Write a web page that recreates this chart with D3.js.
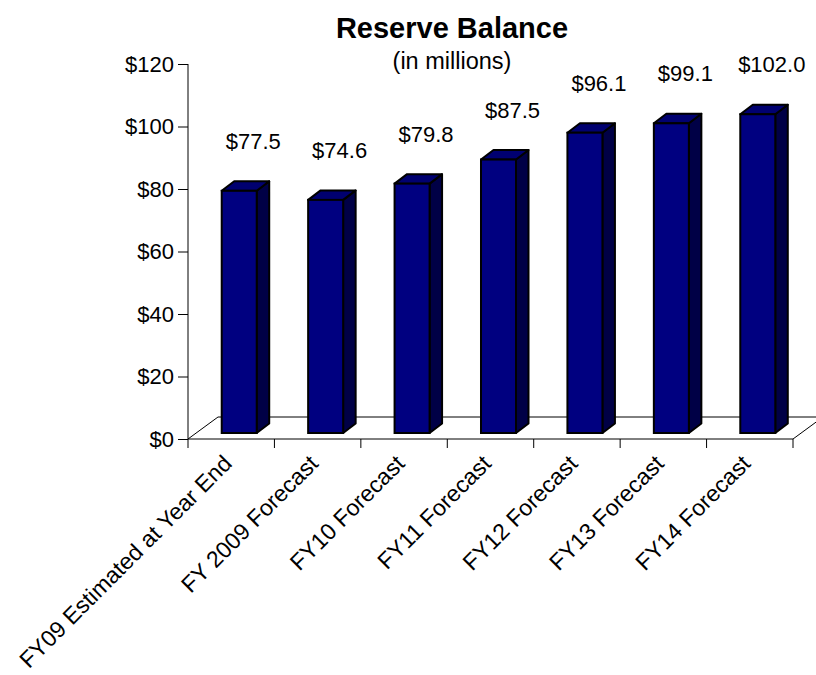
<!DOCTYPE html>
<html>
<head>
<meta charset="utf-8">
<script src="https://d3js.org/d3.v7.min.js"></script>
<style>
    body { margin: 0; background: #ffffff; }
    text { font-family: Arial, "Liberation Sans", sans-serif; fill: #000; }
</style>
</head>
<body>
<div id="canvas"></div>
<script>
"use strict";

/* ---------------- DATA ---------------- */
let categories = [
    "FY09 Estimated at Year End",
    "FY 2009 Forecast",
    "FY10 Forecast",
    "FY11 Forecast",
    "FY12 Forecast",
    "FY13 Forecast",
    "FY14 Forecast"
];
let reserveValues = [77.5, 74.6, 79.8, 87.5, 96.1, 99.1, 102.0];
let yTicks = [0, 20, 40, 60, 80, 100, 120];

let svgWidth = 816;
let svgHeight = 675;

let margin = { top: 64, right: 23, bottom: 236, left: 188 };

let svg = d3.select("#canvas")
    .append("svg")
    .attr("width", svgWidth)
    .attr("height", svgHeight);

/* ---------------- SCALES ---------------- */
let xScale = d3.scaleBand()
    .domain(categories)
    .range([margin.left, svgWidth - margin.right])
    .padding(0);

let yScale = d3.scaleLinear()
    .domain([0, 120])
    .range([svgHeight - margin.bottom, margin.top]);

// 3d depth of the floor and of the bars
let floorDepth = { dx: 30, dy: -22 };
let barShift = { dx: 8, dy: -6 };
let barDepth = { dx: 12.5, dy: -9.5 };
let barWidth = xScale.bandwidth() * 0.405;

let y0 = yScale(0);
let xEnd = svgWidth - margin.right;

/* ---------------- FLOOR ---------------- */
svg.append("path")
    .attr("d",
        "M " + margin.left + " " + y0 +
        " L " + (margin.left + floorDepth.dx) + " " + (y0 + floorDepth.dy) +
        " L " + (xEnd + floorDepth.dx) + " " + (y0 + floorDepth.dy) +
        " L " + xEnd + " " + y0)
    .attr("fill", "none")
    .attr("stroke", "#000")
    .attr("stroke-width", 1);

/* ---------------- AXES ---------------- */
let yAxis = d3.axisLeft(yScale)
    .tickValues(yTicks)
    .tickSize(10)
    .tickPadding(4)
    .tickFormat(d => "$" + d);

let yAxisG = svg.append("g")
    .attr("transform", "translate(" + margin.left + ",0)")
    .call(yAxis);

yAxisG.select(".domain").attr("d", "M0," + yScale(120) + "V" + y0);
yAxisG.selectAll("text")
    .attr("font-size", "22px")
    .attr("font-family", "Arial, 'Liberation Sans', sans-serif");

let xAxisG = svg.append("g")
    .attr("transform", "translate(0," + y0 + ")");

xAxisG.append("line")
    .attr("x1", margin.left)
    .attr("x2", xEnd)
    .attr("stroke", "#000");

// ticks sit on the category boundaries
let boundaries = categories.map(c => xScale(c)).concat([xEnd]);
xAxisG.selectAll(".xtick")
    .data(boundaries)
    .enter()
    .append("line")
    .attr("class", "xtick")
    .attr("x1", d => d)
    .attr("x2", d => d)
    .attr("y1", 0)
    .attr("y2", 9)
    .attr("stroke", "#000");

xAxisG.selectAll(".xlabel")
    .data(categories)
    .enter()
    .append("text")
    .attr("class", "xlabel")
    .attr("text-anchor", "end")
    .attr("font-size", "23px")
    .attr("transform", d => "translate(" + (xScale(d) + xScale.bandwidth() / 2 + 2) + "," + 26 + ") rotate(-45)")
    .text(d => d);

/* ---------------- BARS ---------------- */
let barsLayer = svg.append("g").attr("id", "barsLayer");

categories.forEach(function (c, i) {
    let v = reserveValues[i];
    let left = xScale(c) + (xScale.bandwidth() - barWidth) / 2 + barShift.dx;
    let right = left + barWidth;
    let top = yScale(v) + barShift.dy;
    let bottom = y0 + barShift.dy;

    let g = barsLayer.append("g");

    // side face
    g.append("path")
        .attr("d",
            "M " + right + " " + bottom +
            " L " + (right + barDepth.dx) + " " + (bottom + barDepth.dy) +
            " L " + (right + barDepth.dx) + " " + (top + barDepth.dy) +
            " L " + right + " " + top + " Z")
        .attr("fill", "#000046")
        .attr("stroke", "#000")
        .attr("stroke-width", 2)
        .attr("stroke-linejoin", "round");

    // top face
    g.append("path")
        .attr("d",
            "M " + left + " " + top +
            " L " + (left + barDepth.dx) + " " + (top + barDepth.dy) +
            " L " + (right + barDepth.dx) + " " + (top + barDepth.dy) +
            " L " + right + " " + top + " Z")
        .attr("fill", "#000070")
        .attr("stroke", "#000")
        .attr("stroke-width", 2)
        .attr("stroke-linejoin", "round");

    // front face
    g.append("rect")
        .attr("x", left)
        .attr("y", top)
        .attr("width", barWidth)
        .attr("height", bottom - top)
        .attr("fill", "#000080")
        .attr("stroke", "#000")
        .attr("stroke-width", 2);

    // value label
    svg.append("text")
        .attr("x", (left + right) / 2 + 14)
        .attr("y", top - 42)
        .attr("text-anchor", "middle")
        .attr("font-size", "22px")
        .text("$" + v.toFixed(1));
});

/* ---------------- TITLES ---------------- */
svg.append("text")
    .attr("x", 452)
    .attr("y", 38)
    .attr("text-anchor", "middle")
    .attr("font-size", "29px")
    .attr("font-weight", "bold")
    .text("Reserve Balance");

svg.append("text")
    .attr("x", 452)
    .attr("y", 69)
    .attr("text-anchor", "middle")
    .attr("font-size", "23.5px")
    .text("(in millions)");
</script>
</body>
</html>
